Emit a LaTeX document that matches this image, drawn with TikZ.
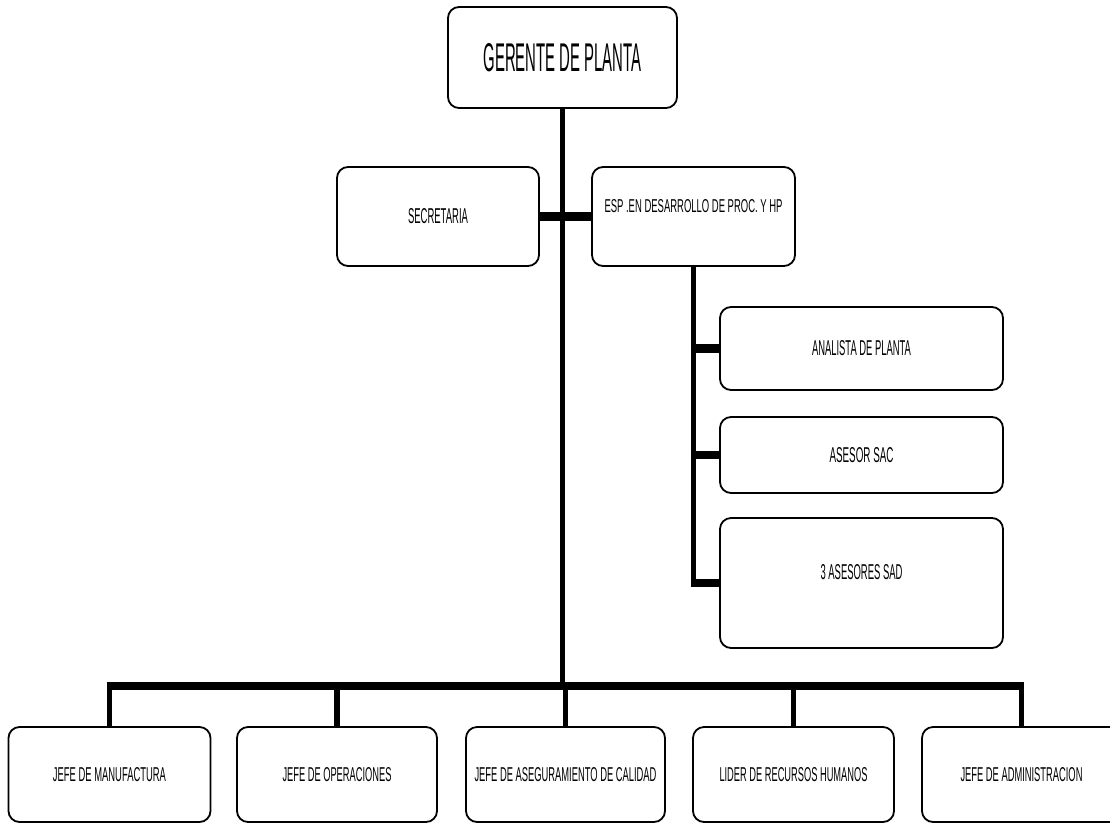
\documentclass[tikz,border=0pt]{standalone}
\usepackage{fontspec}
\setsansfont{Liberation Sans}
\newcommand\lbl[3]{\resizebox{#1pt}{#2pt}{\sffamily #3}}
\tikzset{
  orgbox/.style={draw=black, line width=1.8pt, rounded corners=11pt, fill=white,
    inner sep=0pt, align=center},
  vline/.style={line width=5.5pt, line cap=butt},
  hline/.style={line width=8.5pt, line cap=butt},
}
\begin{document}
\begin{tikzpicture}[x=1pt, y=-1pt]
\useasboundingbox (0,0) rectangle (1110,825);
\clip (0,0) rectangle (1110,825);
\fill[white] (0,0) rectangle (1110,825);

% boxes
\node[orgbox, minimum width=229pt, minimum height=101pt] (ger) at (562.5,57.5) {\lbl{158}{28}{GERENTE DE PLANTA}};
\node[orgbox, minimum width=202pt, minimum height=99pt] (sec) at (438,216.5) {\lbl{60}{15}{SECRETARIA}};
\node[orgbox, minimum width=203pt, minimum height=99pt, text depth=21pt] (esp) at (693.5,216.5) {\lbl{178}{13}{ESP .EN DESARROLLO DE PROC. Y HP}};
\node[orgbox, minimum width=283pt, minimum height=83pt] (ana) at (861.5,348.5) {\lbl{99}{15}{ANALISTA DE PLANTA}};
\node[orgbox, minimum width=283pt, minimum height=76pt] (sac) at (861.5,455) {\lbl{64}{15}{ASESOR SAC}};
\node[orgbox, minimum width=283pt, minimum height=130pt, text depth=22pt] (sad) at (861.5,583) {\lbl{82}{15}{3 ASESORES SAD}};

\node[orgbox, minimum width=202pt, minimum height=95pt] (j1) at (109.5,774.5) {\lbl{113}{14}{JEFE DE MANUFACTURA}};
\node[orgbox, minimum width=200pt, minimum height=95pt] (j2) at (337,774.5) {\lbl{109}{14}{JEFE DE OPERACIONES}};
\node[orgbox, minimum width=199pt, minimum height=95pt] (j3) at (565.5,774.5) {\lbl{182}{14}{JEFE DE ASEGURAMIENTO DE CALIDAD}};
\node[orgbox, minimum width=201pt, minimum height=95pt] (j4) at (793.5,774.5) {\lbl{148}{14}{LIDER DE RECURSOS HUMANOS}};
\node[orgbox, minimum width=199pt, minimum height=95pt] (j5) at (1021.5,774.5) {\lbl{122}{14}{JEFE DE ADMINISTRACION}};

\coordinate (bar) at (562.5,686);

% trunk
\draw[vline] (ger.south) -- (ger.south |- bar);
% secretaria / esp
\draw[hline] (sec.east) -- (esp.west);
% esp branch
\draw[vline] (esp.south) -- (esp.south |- sad.west);
\foreach \b in {ana,sac,sad}
  \draw[hline, shorten <=-2.75pt] (esp.south |- \b.west) -- (\b.west);
% bottom bar
\draw[hline, shorten <=-2.75pt, shorten >=-2.75pt] (j1.north |- bar) -- (j5.north |- bar);
\foreach \j in {j1,j2,j3,j4,j5}
  \draw[vline] (\j.north |- bar) -- (\j.north);
\end{tikzpicture}
\end{document}
